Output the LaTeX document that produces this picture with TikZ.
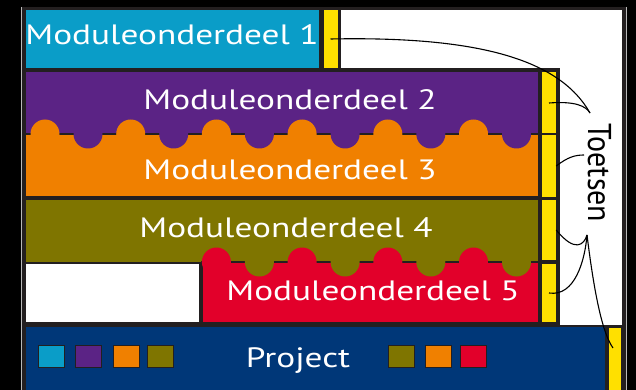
\documentclass[tikz,border=0pt]{standalone}
\usepackage{fontspec}
\setmainfont{PT Sans}[FakeStretch=1.26]
\newfontfamily\plainsans{PT Sans}
\definecolor{edge}{HTML}{231F20}
\definecolor{mcyan}{HTML}{0A9DC8}
\definecolor{mpurple}{HTML}{5B2385}
\definecolor{morange}{HTML}{F08000}
\definecolor{molive}{HTML}{7F7500}
\definecolor{mred}{HTML}{E2002A}
\definecolor{mnavy}{HTML}{003778}
\definecolor{myellow}{HTML}{FFE000}
\tikzset{
  lbl/.style={text=white, inner sep=0pt, anchor=base,
    font=\fontsize{28}{28}\selectfont},
  keybar/.style={fill=myellow, draw=none, inner sep=0pt, minimum width=14pt},
  swatch/.style={draw=edge, line width=1.2pt, inner sep=0pt,
    minimum width=26pt, minimum height=22pt},
  link/.style={draw=black, line width=1.1pt},
  seam/.style={draw=edge, line width=2.5pt}
}
\begin{document}
\begin{tikzpicture}[x=1pt,y=-1pt]
\useasboundingbox (0,0) rectangle (636,390);
\fill[black] (0,0) rectangle (636,390);
% panel frame
\draw[gray!55, line width=0.8pt] (21,7) -- (21,392);
\draw[gray!55, line width=0.8pt] (626.5,7) -- (626.5,392);
\fill[edge] (22,7) rectangle (626,392);

% white background areas
\fill[white] (341,10) rectangle (622,68);
\fill[white] (560,10) rectangle (622,325);
\fill[white] (26,264) rectangle (199,322);

% module blocks
\fill[mcyan]   (26,10)  rectangle (319,68);
\fill[mpurple] (26,72)  rectangle (538,134);
\fill[morange] (26,134) rectangle (538,196);
\fill[molive]  (26,200) rectangle (538,262);
\fill[mred]    (203,262) rectangle (538,322);
\fill[mnavy]   (26,327) rectangle (605,392);

% interlocking seams
\draw[seam] (26,134) -- (538,134);
\draw[seam] (201,262) -- (538,262);
\foreach \k in {0,...,5}{
  \fill[morange] ({45+85.7*\k},134) circle (14.5);
  \fill[mpurple] ({88+85.7*\k},134) circle (14.5);
}
\foreach \k in {2,...,5}{
  \fill[mred]   ({45+85.7*\k},262) circle (14.5);
  \fill[molive] ({88+85.7*\k},262) circle (14.5);
}

% test bars
\node[keybar, minimum height=58pt] (k0) at (330.5,39) {};
\node[keybar, minimum height=61pt] (k1) at (549,103) {};
\node[keybar, minimum height=61pt] (k2) at (549,166) {};
\node[keybar, minimum height=60pt] (k3) at (549,230) {};
\node[keybar, minimum height=58pt] (k4) at (549,293) {};
\node[keybar, minimum width=12pt, minimum height=64pt] (k5) at (615,360) {};

% labels
\node[lbl] (m1) at (172,45)  {Moduleonderdeel 1};
\node[lbl] (m2) at (290,110) {Moduleonderdeel 2};
\node[lbl] (m3) at (290,179) {Moduleonderdeel 3};
\node[lbl] (m4) at (286,237) {Moduleonderdeel 4};
\node[lbl] (m5) at (373,300) {Moduleonderdeel 5};
\node[lbl] (pr) at (298,367) {Project};
\node[lbl, text=black, rotate=-90] (toets) at (588,173)
  {\plainsans\fontsize{30}{30}\selectfont\scalebox{1}[1.1]{Toetsen}};

% colour swatches in the project bar
\node[swatch, fill=mcyan]   (s1) at (51.5,356.5) {};
\node[swatch, fill=mpurple] (s2) at (88.5,356.5) {};
\node[swatch, fill=morange] (s3) at (126.5,356.5) {};
\node[swatch, fill=molive]  (s4) at (160.5,356.5) {};
\node[swatch, fill=molive]  (s5) at (401.5,356.5) {};
\node[swatch, fill=morange] (s6) at (438.5,356.5) {};
\node[swatch, fill=mred]    (s7) at (473.5,356.5) {};

% connectors to the "Toetsen" label
\coordinate (tA) at (590,113);
\coordinate (tB) at (584,155);
\coordinate (tC) at (587,235);
\coordinate (pk) at (613,348);
\draw[link] (k0.center) .. controls (480,36) and (560,60) .. (tA);
\draw[link] (k1.center) .. controls (575,101) and (586,106) .. (tA);
\draw[link] (k2.east) .. controls (568,157) and (575,155) .. (tB);
\draw[link] (k3.east) .. controls (575,253) and (584,245) .. (tC);
\draw[link] (k4.center) .. controls (575,297) and (585,260) .. (tC);
\draw[link] (tC) .. controls (592,275) and (600,330) .. (pk);
\end{tikzpicture}
\end{document}
